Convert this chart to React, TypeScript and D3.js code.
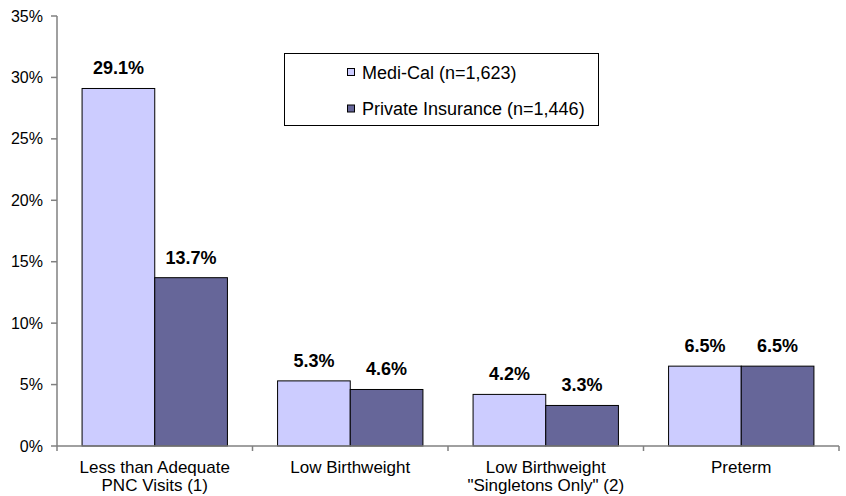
import React from "react";
import * as d3 from "d3";

const categories: string[][] = [
  ["Less than Adequate", "PNC Visits (1)"],
  ["Low Birthweight"],
  ["Low Birthweight", "\"Singletons Only\" (2)"],
  ["Preterm"],
];
const seriesNames = ["Medi-Cal (n=1,623)", "Private Insurance (n=1,446)"];
const mediCal = [29.1, 5.3, 4.2, 6.5];
const privateIns = [13.7, 4.6, 3.3, 6.5];
const yTicks = [0, 5, 10, 15, 20, 25, 30, 35];
const colors = ["#CCCCFF", "#666699"];

const W = 846;
const H = 496;
const FONT = "'Liberation Sans', Arial, sans-serif";

export default function App() {
  const left = 57;
  const right = 839;
  const top = 16;
  const bottom = 446;

  const x = d3.scaleBand<number>().domain(d3.range(categories.length)).range([left, right]).paddingInner(0).paddingOuter(0);
  const inner = d3.scaleBand<number>().domain([0, 1]).range([0, x.bandwidth()]).paddingInner(0).paddingOuter(0.345);
  const y = d3.scaleLinear().domain([0, 35]).range([bottom, top]);
  const series = [mediCal, privateIns];

  return (
    <svg width={W} height={H} style={{ position: "absolute", left: 0, top: 0, background: "#fff" }}>
      {/* bars */}
      {series.map((vals, s) =>
        vals.map((v, i) => {
          const bx = (x(i) as number) + (inner(s) as number);
          const by = y(v);
          return (
            <g key={`${s}-${i}`}>
              <rect x={bx} y={by} width={inner.bandwidth()} height={bottom - by} fill={colors[s]} stroke="#000" strokeWidth={1} />
              <text x={bx + inner.bandwidth() / 2} y={by - 14} textAnchor="middle" fontFamily={FONT} fontSize={18} fontWeight="bold" fill="#000">
                {v.toFixed(1)}%
              </text>
            </g>
          );
        })
      )}
      {/* y axis */}
      <line x1={left} x2={left} y1={top} y2={bottom} stroke="#808080" strokeWidth={1.5} />
      {yTicks.map((t) => (
        <g key={t}>
          <line x1={left - 6} x2={left} y1={y(t)} y2={y(t)} stroke="#808080" strokeWidth={1.5} />
          <text x={43} y={y(t) + 5.6} textAnchor="end" fontFamily={FONT} fontSize={16} fill="#000">
            {t}%
          </text>
        </g>
      ))}
      {/* x axis */}
      <line x1={left} x2={right} y1={bottom} y2={bottom} stroke="#808080" strokeWidth={1.5} />
      {d3.range(categories.length + 1).map((i) => {
        const tx = i < categories.length ? (x(i) as number) : right;
        return <line key={i} x1={tx} x2={tx} y1={bottom} y2={bottom + 5} stroke="#808080" strokeWidth={1.5} />;
      })}
      {categories.map((lines, i) => (
        <text key={i} textAnchor="middle" fontFamily={FONT} fontSize={17} fill="#000">
          {lines.map((ln, j) => (
            <tspan key={j} x={(x(i) as number) + x.bandwidth() / 2} y={473 + j * 17.5}>
              {ln}
            </tspan>
          ))}
        </text>
      ))}
      {/* legend */}
      <rect x={284.5} y={53.5} width={314} height={72} fill="#fff" stroke="#000" strokeWidth={1} />
      {seriesNames.map((n, i) => (
        <g key={n}>
          <rect x={347.5} y={68.5 + i * 36.5} width={7} height={7} fill={colors[i]} stroke="#000" strokeWidth={1} />
          <text x={362} y={78.5 + i * 36.5} fontFamily={FONT} fontSize={18} fill="#000">
            {n}
          </text>
        </g>
      ))}
    </svg>
  );
}
